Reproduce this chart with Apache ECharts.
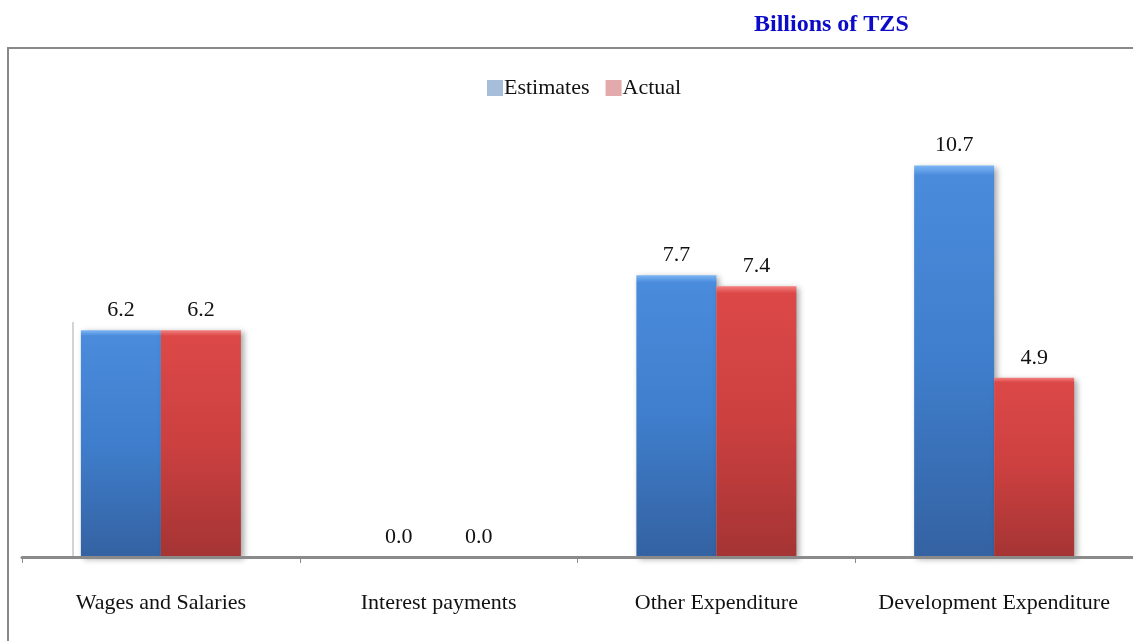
<!DOCTYPE html>
<html>
<head>
<meta charset="utf-8">
<title>Expenditure: Estimates vs Actual</title>
<script src="https://cdn.jsdelivr.net/npm/echarts@6/dist/echarts.min.js"></script>
<style>
  html, body { margin: 0; padding: 0; background: #ffffff; }
  #chart { width: 1133px; height: 641px; }
</style>
</head>
<body>
<div id="chart"></div>
<script>
// Expenditure categories and values (Billions of TZS)
const categories = ['Wages and Salaries', 'Interest payments', 'Other Expenditure', 'Development Expenditure'];
const estimates = [6.2, 0.0, 7.7, 10.7];
const actual = [6.2, 0.0, 7.4, 4.9];
const seriesNames = ['Estimates', 'Actual'];
const unitTitle = 'Billions of TZS';

const serif = '"Liberation Serif", "Times New Roman", serif';

// Vertical shading with a light bevel strip at the top of each bar
function barFill(top, light, mid, bottom) {
  return new echarts.graphic.LinearGradient(0, 0, 0, 1, [
    { offset: 0, color: light },
    { offset: 0.025, color: top },
    { offset: 0.5, color: mid },
    { offset: 1, color: bottom }
  ]);
}

const chart = echarts.init(document.getElementById('chart'), null, { renderer: 'canvas' });

const valueLabel = {
  show: true,
  position: 'top',
  distance: 9,
  fontFamily: serif,
  fontSize: 22,
  color: '#111111',
  formatter: p => p.value.toFixed(1)
};

const barShadow = {
  shadowColor: 'rgba(0,0,0,0.35)',
  shadowBlur: 6,
  shadowOffsetX: 3,
  shadowOffsetY: 2
};

chart.setOption({
  animation: false,
  backgroundColor: '#ffffff',
  title: {
    text: unitTitle,
    left: 749,
    top: 8,
    textStyle: { fontFamily: serif, fontSize: 24, fontWeight: 'bold', color: '#0b0bc8' }
  },
  legend: {
    data: [
      { name: seriesNames[0], itemStyle: { color: '#a7bedb', shadowBlur: 0 } },
      { name: seriesNames[1], itemStyle: { color: '#e2aaaa', shadowBlur: 0 } }
    ],
    left: 482,
    top: 72,
    itemWidth: 16,
    itemHeight: 16,
    itemGap: 16,
    icon: 'rect',
    textStyle: { fontFamily: serif, fontSize: 22, color: '#111111', padding: [0, 0, 0, -4] }
  },
  graphic: [
    {
      // outer frame of the chart area
      type: 'rect',
      shape: { x: 8, y: 48, width: 1200, height: 700 },
      style: { fill: 'none', stroke: '#888888', lineWidth: 2 },
      silent: true,
      z: 0
    },
    {
      type: 'line',
      shape: { x1: 73, y1: 322, x2: 73, y2: 557 },
      style: { stroke: '#d4d4d4', lineWidth: 2 },
      silent: true,
      z: 0
    }
  ],
  grid: {
    left: 22,
    width: 1112,
    top: 118,
    bottom: 84,
    containLabel: false
  },
  xAxis: {
    type: 'category',
    data: categories,
    axisLine: { show: true, lineStyle: { color: '#8a8a8a', width: 3 } },
    axisTick: { show: true, length: 6, alignWithLabel: false, lineStyle: { color: '#8a8a8a', width: 1 } },
    axisLabel: {
      fontFamily: serif,
      fontSize: 22,
      color: '#111111',
      margin: 35,
      interval: 0
    },
    z: 10
  },
  yAxis: {
    type: 'value',
    min: 0,
    max: 12,
    axisLine: { show: false },
    axisTick: { show: false },
    axisLabel: { show: false },
    splitLine: { show: false }
  },
  series: [
    {
      name: seriesNames[0],
      type: 'bar',
      data: estimates,
      barWidth: 80,
      barGap: '0%',
      itemStyle: Object.assign({ color: barFill('#4b8bdc', '#7cb6f4', '#3f7ecc', '#3462a2') }, barShadow),
      label: valueLabel
    },
    {
      name: seriesNames[1],
      type: 'bar',
      data: actual,
      barWidth: 80,
      itemStyle: Object.assign({ color: barFill('#dc4848', '#f58080', '#cc4040', '#a53434') }, barShadow),
      label: valueLabel
    }
  ]
});
</script>
</body>
</html>
